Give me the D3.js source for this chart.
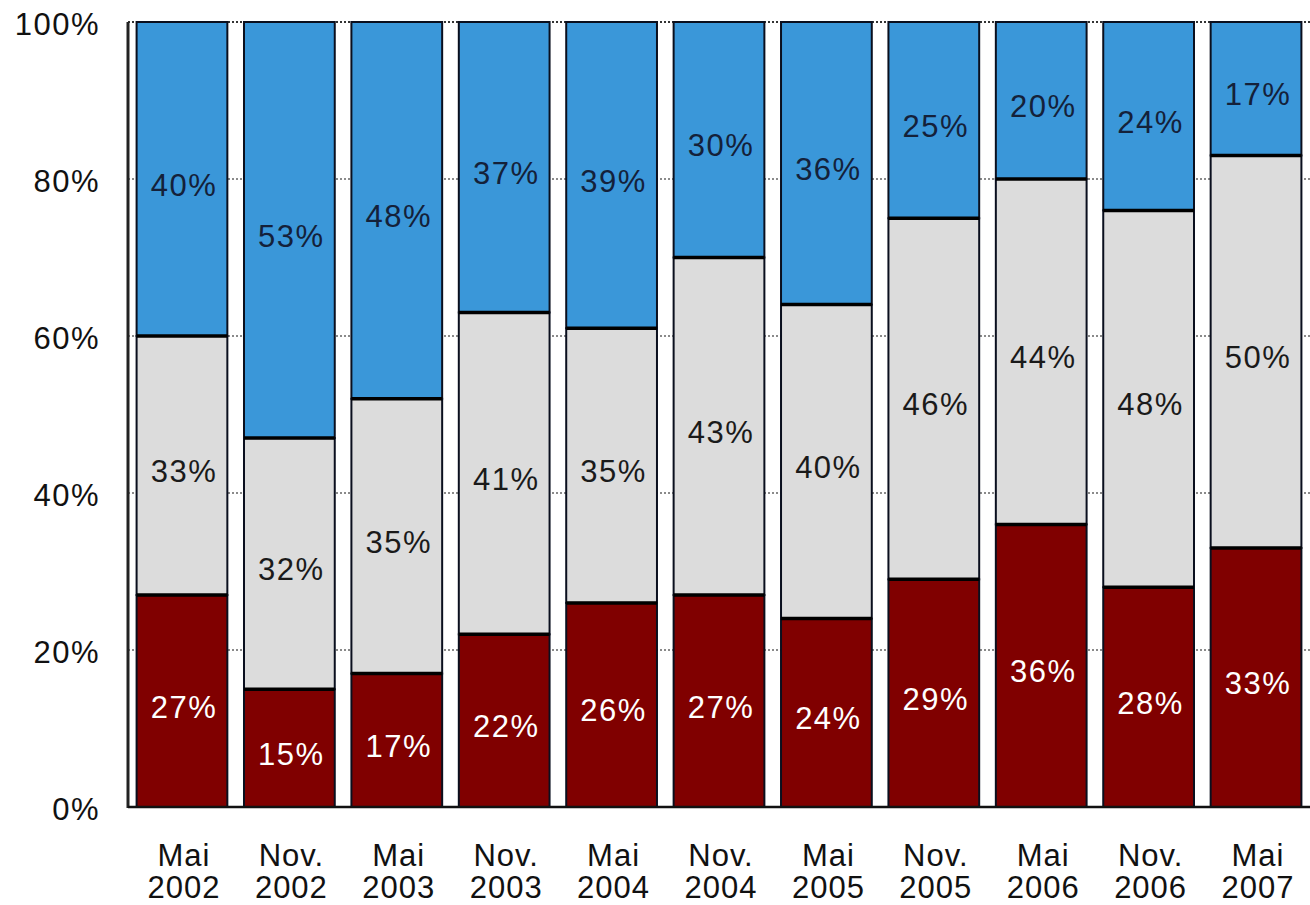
<!DOCTYPE html>
<html><head><meta charset="utf-8">
<script src="https://cdn.jsdelivr.net/npm/d3@7"></script>
<style>
html,body{margin:0;padding:0;background:#fff;}
svg{display:block;}
text{font-family:"Liberation Sans",Arial,sans-serif;}
</style></head>
<body>
<script>
const categories = [["Mai","2002"],["Nov.","2002"],["Mai","2003"],["Nov.","2003"],["Mai","2004"],["Nov.","2004"],["Mai","2005"],["Nov.","2005"],["Mai","2006"],["Nov.","2006"],["Mai","2007"]];
const redValues  = [27,15,17,22,26,27,24,29,36,28,33];
const greyValues = [33,32,35,41,35,43,40,46,44,48,50];
const blueValues = [40,53,48,37,39,30,36,25,20,24,17];
const yTicks = [0,20,40,60,80,100];

const W = 1310, H = 905;
const m = {left:128, right:0, top:22, bottom:98};
const svg = d3.select("body").append("svg").attr("width",W).attr("height",H);

const keys = ["red","grey","blue"];
const colors = {red:"#800000", grey:"#dcdcdc", blue:"#3a97d9"};
const textColors = {red:"#ffffff", grey:"#1a1a1a", blue:"#14213a"};
const rows = categories.map((c,i)=>({i, red:redValues[i], grey:greyValues[i], blue:blueValues[i]}));
const series = d3.stack().keys(keys)(rows);

const x = d3.scaleBand().domain(d3.range(categories.length)).range([m.left, W-m.right]).paddingInner(0.155).paddingOuter(0.08);
const y = d3.scaleLinear().domain([0,100]).range([H-m.bottom, m.top]);

// gridlines
svg.append("g").selectAll("line").data(yTicks.filter(t=>t>0)).join("line")
  .attr("x1",m.left).attr("x2",W).attr("y1",d=>y(d)).attr("y2",d=>y(d))
  .attr("stroke",d=>d===100?"#333":"#8a8a8a").attr("stroke-width",2)
  .attr("stroke-dasharray","2,2");

// bars
const g = svg.append("g");
series.forEach(s=>{
  g.append("g").selectAll("rect").data(s).join("rect")
    .attr("x",(d,i)=>x(i)).attr("width",x.bandwidth())
    .attr("y",d=>y(d[1])).attr("height",d=>y(d[0])-y(d[1]))
    .attr("fill",colors[s.key]).attr("stroke","#0a0f1e").attr("stroke-width",2);
});
// thick boundaries between segments
series.slice(0,2).forEach(s=>{
  g.append("g").selectAll("line").data(s).join("line")
    .attr("x1",(d,i)=>x(i)).attr("x2",(d,i)=>x(i)+x.bandwidth())
    .attr("y1",d=>y(d[1])).attr("y2",d=>y(d[1]))
    .attr("stroke","#000").attr("stroke-width",3.5);
});
// value labels
series.forEach(s=>{
  g.append("g").selectAll("text").data(s).join("text")
    .attr("x",(d,i)=>x(i)+x.bandwidth()/2+2)
    .attr("y",d=>(y(d[0])+y(d[1]))/2+6)
    .attr("text-anchor","middle").attr("dominant-baseline","central")
    .attr("font-size",31).attr("letter-spacing",1.5)
    .attr("fill",textColors[s.key])
    .text(d=>(d[1]-d[0])+"%");
});

// axes lines
svg.append("line").attr("x1",m.left).attr("x2",m.left).attr("y1",y(100)).attr("y2",y(0)+1)
  .attr("stroke","#222").attr("stroke-width",3);
svg.append("line").attr("x1",m.left).attr("x2",W).attr("y1",y(0)).attr("y2",y(0))
  .attr("stroke","#111").attr("stroke-width",2.5);

// y tick labels
svg.append("g").selectAll("text").data(yTicks).join("text")
  .attr("x",100).attr("y",d=>y(d)+2).attr("text-anchor","end").attr("dominant-baseline","central")
  .attr("font-size",31).attr("letter-spacing",1.5).attr("fill","#111")
  .text(d=>d+"%");

// x labels
const xl = svg.append("g").selectAll("text").data(categories).join("text")
  .attr("text-anchor","middle").attr("font-size",31).attr("letter-spacing",1).attr("fill","#111");
xl.append("tspan").attr("x",(d,i)=>x(i)+x.bandwidth()/2+2).attr("y",866).text(d=>d[0]);
xl.append("tspan").attr("x",(d,i)=>x(i)+x.bandwidth()/2+2).attr("y",898).text(d=>d[1]);
</script>
</body></html>
